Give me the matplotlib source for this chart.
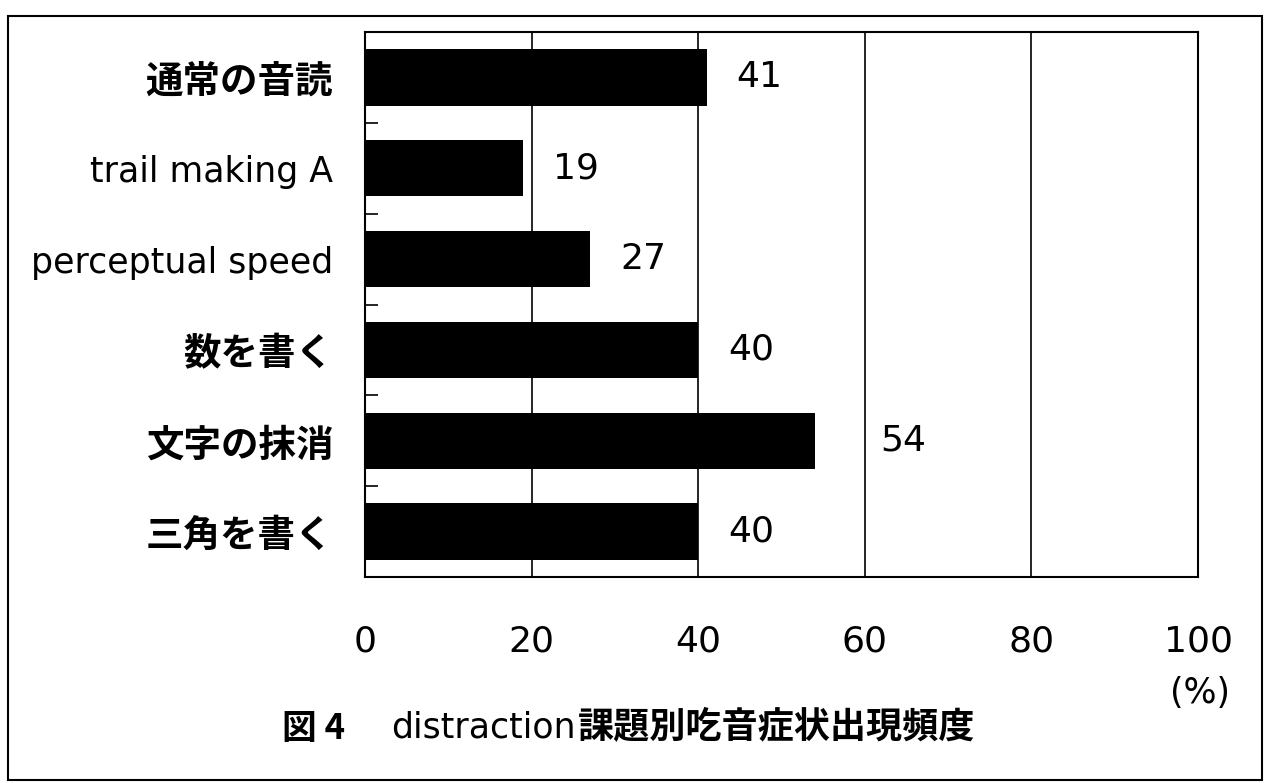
import matplotlib
matplotlib.use('Agg')
import matplotlib.pyplot as plt
import numpy as np
from matplotlib.patches import Rectangle

plt.rcParams['font.family'] = ['DejaVu Sans', 'Noto Sans CJK JP']

# data
tasks = ['通常の音読', 'trail making A', 'perceptual speed', '数を書く', '文字の抹消', '三角を書く']
freq = [41, 19, 27, 40, 54, 40]
xticks = [0, 20, 40, 60, 80, 100]
caption_parts = ['図 4', 'distraction', '課題別吃音症状出現頻度']

CJK = 'Noto Sans CJK JP'


def is_cjk(s):
    return any(ord(c) > 0x2E80 for c in s)


def make_plot():
    fig = plt.figure(figsize=(12.64, 7.83), dpi=100)
    # outer frame around the whole figure
    fig.patches.append(Rectangle((8 / 1264, 3 / 783), 1254 / 1264, 764 / 783,
                                 transform=fig.transFigure, fill=False,
                                 edgecolor='black', linewidth=1.5))

    ax = fig.add_axes([365 / 1264, 1 - 577 / 783, 833 / 1264, 545 / 783])
    y = np.arange(len(tasks))
    ax.barh(y, freq, height=0.62, color='black', zorder=3)

    ax.set_xlim(0, 100)
    ax.set_ylim(len(tasks) - 0.5, -0.5)

    # vertical grid lines
    for g in xticks[1:-1]:
        ax.axvline(g, color='black', linewidth=1.2, zorder=1)

    for s in ax.spines.values():
        s.set_linewidth(1.5)

    ax.set_yticks(y)
    ax.set_yticklabels(tasks, fontsize=25)
    for lab in ax.get_yticklabels():
        if is_cjk(lab.get_text()):
            lab.set_fontfamily(CJK)
            lab.set_fontweight('bold')
            lab.set_fontsize(27)
    ax.tick_params(axis='y', which='major', length=0, pad=23)
    # short inward ticks between the categories
    ax.set_yticks(y[:-1] + 0.5, minor=True)
    ax.tick_params(axis='y', which='minor', direction='in', length=9, width=1.2)

    ax.set_xticks(xticks)
    ax.set_xticklabels([str(v) for v in xticks], fontsize=26)
    ax.tick_params(axis='x', length=0, pad=34)

    # value labels right of the bars, pushed past a grid line if they would sit on it
    px = 833 / 100.0
    for yi, v in zip(y, freq):
        left = v + 30 / px
        right = left + 46 / px
        for g in xticks[1:-1]:
            if left - 1 < g < right + 1:
                left = g + 15 / px
        ax.text(left, yi, str(v), ha='left', va='center', fontsize=26)

    fig.text(1200 / 1264, 1 - 693 / 783, '(%)', ha='center', va='center', fontsize=25)

    # caption: 図 4   distraction課題別...
    cy = 1 - 728 / 783
    t1 = fig.text(282 / 1264, cy, caption_parts[0], ha='left', va='center',
                  fontsize=25, fontfamily=CJK, fontweight='bold')
    t2 = fig.text(0, cy, caption_parts[1], fontsize=25, va='center', ha='left')
    fig.canvas.draw()
    r = fig.canvas.get_renderer()
    bb1 = t1.get_window_extent(r)
    t2.set_position(((bb1.x1 + 46) / 1264, cy))
    fig.canvas.draw()
    bb2 = t2.get_window_extent(r)
    fig.text((bb2.x1 + 2) / 1264, cy, caption_parts[2], ha='left', va='center',
             fontsize=26, fontfamily=CJK, fontweight='bold')

    fig.savefig('out.png', dpi=100)


if __name__ == '__main__':
    make_plot()
